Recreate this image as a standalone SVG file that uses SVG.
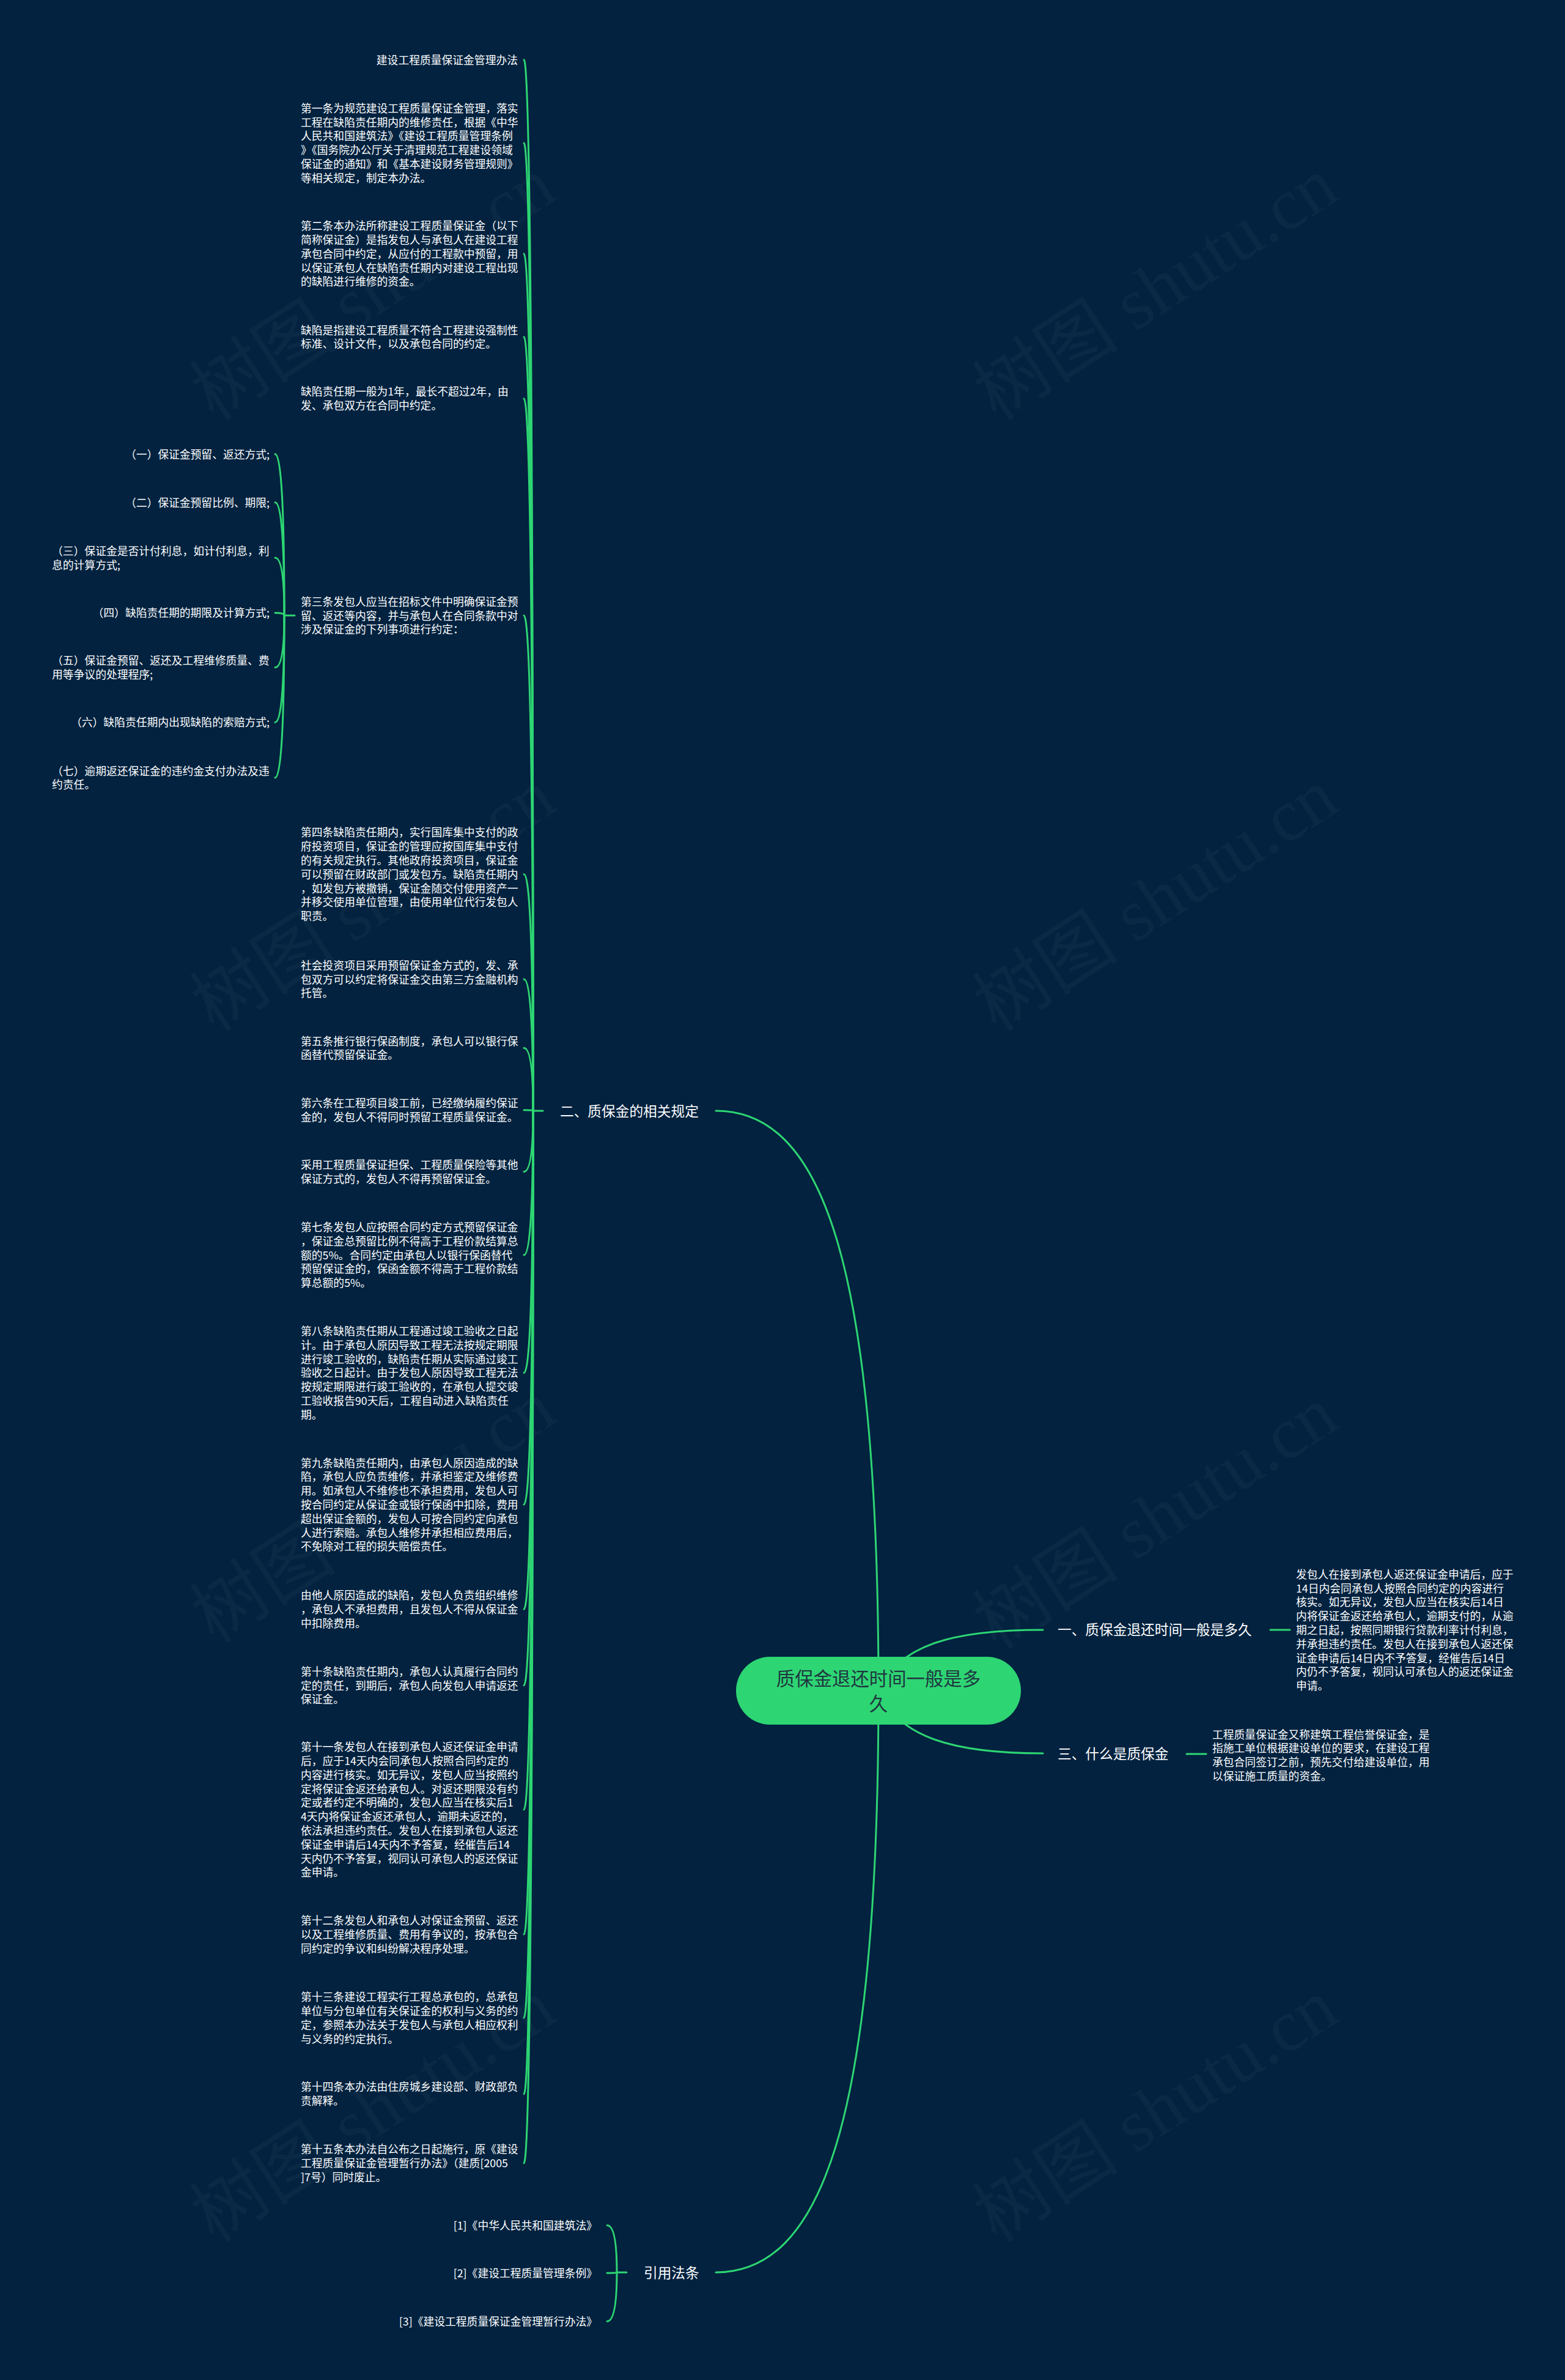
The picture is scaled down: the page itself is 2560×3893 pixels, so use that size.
<svg xmlns="http://www.w3.org/2000/svg" width="2560" height="3893" viewBox="0 0 2560 3893">
<style>
.bg{fill:#02223f}
.t{font-family:"Noto Sans CJK SC","Noto Sans",sans-serif;font-size:17.8px;fill:#ffffff}
.e{text-anchor:end}
.lbl{font-family:"Noto Sans CJK SC","Noto Sans",sans-serif;font-size:22.7px;fill:#ffffff}
.root{font-family:"Noto Sans CJK SC","Noto Sans",sans-serif;font-size:30.4px;fill:#1f3640;text-anchor:middle}
.c{fill:none;stroke:#2ed573;stroke-width:3;stroke-linecap:round}
.wm{font-family:"Liberation Serif","Noto Sans CJK SC",serif;font-size:120px;fill:#ffffff;fill-opacity:0.035}
</style>
<rect class="bg" x="0" y="0" width="2560" height="3893"/>
<g id="watermarks">
<text class="wm" transform="translate(350 690) rotate(-33)">树图 shutu.cn</text>
<text class="wm" transform="translate(1630 690) rotate(-33)">树图 shutu.cn</text>
<text class="wm" transform="translate(350 1690) rotate(-33)">树图 shutu.cn</text>
<text class="wm" transform="translate(1630 1690) rotate(-33)">树图 shutu.cn</text>
<text class="wm" transform="translate(350 2690) rotate(-33)">树图 shutu.cn</text>
<text class="wm" transform="translate(1630 2700) rotate(-33)">树图 shutu.cn</text>
<text class="wm" transform="translate(350 3670) rotate(-33)">树图 shutu.cn</text>
<text class="wm" transform="translate(1630 3670) rotate(-33)">树图 shutu.cn</text>
</g>
<g id="connectors">
<path class="c" d="M1437,2766 C1437,2050 1340,1817 1171,1817"/>
<path class="c" d="M1437,2766 C1437,3482 1340,3717 1171,3717"/>
<path class="c" d="M1437,2766 C1470,2690 1560,2666 1706,2666"/>
<path class="c" d="M1437,2766 C1470,2842 1560,2868 1706,2868"/>
<path class="c" d="M2078,2666 L2110,2666"/>
<path class="c" d="M1941,2869 L1973,2869"/>
<path class="c" d="M872,1817 L888,1817"/>
<path class="c" d="M857,97.7 Q872,97.7 872,1817"/>
<path class="c" d="M857,234 Q872,234 872,1817"/>
<path class="c" d="M857,414.9 Q872,414.9 872,1817"/>
<path class="c" d="M857,551.1 Q872,551.1 872,1817"/>
<path class="c" d="M857,652 Q872,652 872,1817"/>
<path class="c" d="M857,1006.8 Q872,1006.8 872,1817"/>
<path class="c" d="M857,1429.9 Q872,1429.9 872,1817"/>
<path class="c" d="M857,1601.8 Q872,1601.8 872,1817"/>
<path class="c" d="M857,1714.2 Q872,1714.2 872,1817"/>
<path class="c" d="M857,1815.8 Q872,1815.8 872,1817"/>
<path class="c" d="M857,1916.6 Q872,1916.6 872,1817"/>
<path class="c" d="M857,2052.8 Q872,2052.8 872,1817"/>
<path class="c" d="M857,2245.6 Q872,2245.6 872,1817"/>
<path class="c" d="M857,2461.1 Q872,2461.1 872,1817"/>
<path class="c" d="M857,2632.2 Q872,2632.2 872,1817"/>
<path class="c" d="M857,2756.8 Q872,2756.8 872,1817"/>
<path class="c" d="M857,2959.9 Q872,2959.9 872,1817"/>
<path class="c" d="M857,3164.1 Q872,3164.1 872,1817"/>
<path class="c" d="M857,3300.5 Q872,3300.5 872,1817"/>
<path class="c" d="M857,3425 Q872,3425 872,1817"/>
<path class="c" d="M857,3538.2 Q872,3538.2 872,1817"/>
<path class="c" d="M465,1006.8 L482,1006.8"/>
<path class="c" d="M450,742.7 Q465,742.7 465,1006.8"/>
<path class="c" d="M450,821.8 Q465,821.8 465,1006.8"/>
<path class="c" d="M450,912.3 Q465,912.3 465,1006.8"/>
<path class="c" d="M450,1002.5 Q465,1002.5 465,1006.8"/>
<path class="c" d="M450,1091.8 Q465,1091.8 465,1006.8"/>
<path class="c" d="M450,1181.6 Q465,1181.6 465,1006.8"/>
<path class="c" d="M450,1272.1 Q465,1272.1 465,1006.8"/>
<path class="c" d="M1009,3717 L1025,3717"/>
<path class="c" d="M993,3640 Q1009,3640 1009,3717"/>
<path class="c" d="M993,3718 Q1009,3718 1009,3717"/>
<path class="c" d="M993,3797 Q1009,3797 1009,3717"/>
</g>
<g id="root">
<rect x="1204" y="2710" width="466" height="111" rx="55.5" fill="#2ed573"/>
<text class="root" x="1437" y="2756.5">质保金退还时间一般是多</text>
<text class="root" x="1437" y="2797.5">久</text>
</g>
<g id="branch-1"><text class="lbl" x="1730" y="2674.1">一、质保金退还时间一般是多久</text></g>
<g id="branch-1-detail"><text class="t" x="2120" y="2581.8">
<tspan x="2120" dy="0">发包人在接到承包人返还保证金申请后，应于</tspan>
<tspan x="2120" dy="22.8">14日内会同承包人按照合同约定的内容进行</tspan>
<tspan x="2120" dy="22.8">核实。如无异议，发包人应当在核实后14日</tspan>
<tspan x="2120" dy="22.8">内将保证金返还给承包人，逾期支付的，从逾</tspan>
<tspan x="2120" dy="22.8">期之日起，按照同期银行贷款利率计付利息，</tspan>
<tspan x="2120" dy="22.8">并承担违约责任。发包人在接到承包人返还保</tspan>
<tspan x="2120" dy="22.8">证金申请后14日内不予答复，经催告后14日</tspan>
<tspan x="2120" dy="22.8">内仍不予答复，视同认可承包人的返还保证金</tspan>
<tspan x="2120" dy="22.8">申请。</tspan></text></g>
<g id="branch-3"><text class="lbl" x="1730" y="2876.6">三、什么是质保金</text></g>
<g id="branch-3-detail"><text class="t" x="1983" y="2843.5">
<tspan x="1983" dy="0">工程质量保证金又称建筑工程信誉保证金，是</tspan>
<tspan x="1983" dy="22.8">指施工单位根据建设单位的要求，在建设工程</tspan>
<tspan x="1983" dy="22.8">承包合同签订之前，预先交付给建设单位，用</tspan>
<tspan x="1983" dy="22.8">以保证施工质量的资金。</tspan></text></g>
<g id="branch-2"><text class="lbl" x="916" y="1825.6">二、质保金的相关规定</text></g>
<g id="branch-refs"><text class="lbl" x="1053" y="3725.6">引用法条</text></g>
<g id="ref-1"><text class="t e" x="977" y="3646.8">[1]《中华人民共和国建筑法》</text></g>
<g id="ref-2"><text class="t e" x="977" y="3724.8">[2]《建设工程质量管理条例》</text></g>
<g id="ref-3"><text class="t e" x="977" y="3803.8">[3]《建设工程质量保证金管理暂行办法》</text></g>
<g id="n-title"><text class="t e" x="847" y="104.5">建设工程质量保证金管理办法</text></g>
<g id="n-1"><text class="t" x="492" y="183.8">
<tspan x="492" dy="0">第一条为规范建设工程质量保证金管理，落实</tspan>
<tspan x="492" dy="22.8">工程在缺陷责任期内的维修责任，根据《中华</tspan>
<tspan x="492" dy="22.8">人民共和国建筑法》《建设工程质量管理条例</tspan>
<tspan x="492" dy="22.8">》《国务院办公厅关于清理规范工程建设领域</tspan>
<tspan x="492" dy="22.8">保证金的通知》和《基本建设财务管理规则》</tspan>
<tspan x="492" dy="22.8">等相关规定，制定本办法。</tspan></text></g>
<g id="n-2"><text class="t" x="492" y="376.1">
<tspan x="492" dy="0">第二条本办法所称建设工程质量保证金（以下</tspan>
<tspan x="492" dy="22.8">简称保证金）是指发包人与承包人在建设工程</tspan>
<tspan x="492" dy="22.8">承包合同中约定，从应付的工程款中预留，用</tspan>
<tspan x="492" dy="22.8">以保证承包人在缺陷责任期内对建设工程出现</tspan>
<tspan x="492" dy="22.8">的缺陷进行维修的资金。</tspan></text></g>
<g id="n-defect"><text class="t" x="492" y="546.5">
<tspan x="492" dy="0">缺陷是指建设工程质量不符合工程建设强制性</tspan>
<tspan x="492" dy="22.8">标准、设计文件，以及承包合同的约定。</tspan></text></g>
<g id="n-period"><text class="t" x="492" y="647.4">
<tspan x="492" dy="0">缺陷责任期一般为1年，最长不超过2年，由</tspan>
<tspan x="492" dy="22.8">发、承包双方在合同中约定。</tspan></text></g>
<g id="n-3"><text class="t" x="492" y="990.8">
<tspan x="492" dy="0">第三条发包人应当在招标文件中明确保证金预</tspan>
<tspan x="492" dy="22.8">留、返还等内容，并与承包人在合同条款中对</tspan>
<tspan x="492" dy="22.8">涉及保证金的下列事项进行约定：</tspan></text></g>
<g id="n-3-1"><text class="t e" x="441" y="749.5">（一）保证金预留、返还方式;</text></g>
<g id="n-3-2"><text class="t e" x="441" y="828.6">（二）保证金预留比例、期限;</text></g>
<g id="n-3-3"><text class="t" x="85" y="907.7">
<tspan x="85" dy="0">（三）保证金是否计付利息，如计付利息，利</tspan>
<tspan x="85" dy="22.8">息的计算方式;</tspan></text></g>
<g id="n-3-4"><text class="t e" x="441" y="1009.3">（四）缺陷责任期的期限及计算方式;</text></g>
<g id="n-3-5"><text class="t" x="85" y="1087.2">
<tspan x="85" dy="0">（五）保证金预留、返还及工程维修质量、费</tspan>
<tspan x="85" dy="22.8">用等争议的处理程序;</tspan></text></g>
<g id="n-3-6"><text class="t e" x="441" y="1188.4">（六）缺陷责任期内出现缺陷的索赔方式;</text></g>
<g id="n-3-7"><text class="t" x="85" y="1267.5">
<tspan x="85" dy="0">（七）逾期返还保证金的违约金支付办法及违</tspan>
<tspan x="85" dy="22.8">约责任。</tspan></text></g>
<g id="n-4"><text class="t" x="492" y="1368.3">
<tspan x="492" dy="0">第四条缺陷责任期内，实行国库集中支付的政</tspan>
<tspan x="492" dy="22.8">府投资项目，保证金的管理应按国库集中支付</tspan>
<tspan x="492" dy="22.8">的有关规定执行。其他政府投资项目，保证金</tspan>
<tspan x="492" dy="22.8">可以预留在财政部门或发包方。缺陷责任期内</tspan>
<tspan x="492" dy="22.8">，如发包方被撤销，保证金随交付使用资产一</tspan>
<tspan x="492" dy="22.8">并移交使用单位管理，由使用单位代行发包人</tspan>
<tspan x="492" dy="22.8">职责。</tspan></text></g>
<g id="n-social"><text class="t" x="492" y="1585.8">
<tspan x="492" dy="0">社会投资项目采用预留保证金方式的，发、承</tspan>
<tspan x="492" dy="22.8">包双方可以约定将保证金交由第三方金融机构</tspan>
<tspan x="492" dy="22.8">托管。</tspan></text></g>
<g id="n-5"><text class="t" x="492" y="1709.6">
<tspan x="492" dy="0">第五条推行银行保函制度，承包人可以银行保</tspan>
<tspan x="492" dy="22.8">函替代预留保证金。</tspan></text></g>
<g id="n-6"><text class="t" x="492" y="1811.2">
<tspan x="492" dy="0">第六条在工程项目竣工前，已经缴纳履约保证</tspan>
<tspan x="492" dy="22.8">金的，发包人不得同时预留工程质量保证金。</tspan></text></g>
<g id="n-guarantee"><text class="t" x="492" y="1912">
<tspan x="492" dy="0">采用工程质量保证担保、工程质量保险等其他</tspan>
<tspan x="492" dy="22.8">保证方式的，发包人不得再预留保证金。</tspan></text></g>
<g id="n-7"><text class="t" x="492" y="2014">
<tspan x="492" dy="0">第七条发包人应按照合同约定方式预留保证金</tspan>
<tspan x="492" dy="22.8">，保证金总预留比例不得高于工程价款结算总</tspan>
<tspan x="492" dy="22.8">额的5%。合同约定由承包人以银行保函替代</tspan>
<tspan x="492" dy="22.8">预留保证金的，保函金额不得高于工程价款结</tspan>
<tspan x="492" dy="22.8">算总额的5%。</tspan></text></g>
<g id="n-8"><text class="t" x="492" y="2184">
<tspan x="492" dy="0">第八条缺陷责任期从工程通过竣工验收之日起</tspan>
<tspan x="492" dy="22.8">计。由于承包人原因导致工程无法按规定期限</tspan>
<tspan x="492" dy="22.8">进行竣工验收的，缺陷责任期从实际通过竣工</tspan>
<tspan x="492" dy="22.8">验收之日起计。由于发包人原因导致工程无法</tspan>
<tspan x="492" dy="22.8">按规定期限进行竣工验收的，在承包人提交竣</tspan>
<tspan x="492" dy="22.8">工验收报告90天后，工程自动进入缺陷责任</tspan>
<tspan x="492" dy="22.8">期。</tspan></text></g>
<g id="n-9"><text class="t" x="492" y="2399.5">
<tspan x="492" dy="0">第九条缺陷责任期内，由承包人原因造成的缺</tspan>
<tspan x="492" dy="22.8">陷，承包人应负责维修，并承担鉴定及维修费</tspan>
<tspan x="492" dy="22.8">用。如承包人不维修也不承担费用，发包人可</tspan>
<tspan x="492" dy="22.8">按合同约定从保证金或银行保函中扣除，费用</tspan>
<tspan x="492" dy="22.8">超出保证金额的，发包人可按合同约定向承包</tspan>
<tspan x="492" dy="22.8">人进行索赔。承包人维修并承担相应费用后，</tspan>
<tspan x="492" dy="22.8">不免除对工程的损失赔偿责任。</tspan></text></g>
<g id="n-others"><text class="t" x="492" y="2616.2">
<tspan x="492" dy="0">由他人原因造成的缺陷，发包人负责组织维修</tspan>
<tspan x="492" dy="22.8">，承包人不承担费用，且发包人不得从保证金</tspan>
<tspan x="492" dy="22.8">中扣除费用。</tspan></text></g>
<g id="n-10"><text class="t" x="492" y="2740.8">
<tspan x="492" dy="0">第十条缺陷责任期内，承包人认真履行合同约</tspan>
<tspan x="492" dy="22.8">定的责任，到期后，承包人向发包人申请返还</tspan>
<tspan x="492" dy="22.8">保证金。</tspan></text></g>
<g id="n-11"><text class="t" x="492" y="2864.1">
<tspan x="492" dy="0">第十一条发包人在接到承包人返还保证金申请</tspan>
<tspan x="492" dy="22.8">后，应于14天内会同承包人按照合同约定的</tspan>
<tspan x="492" dy="22.8">内容进行核实。如无异议，发包人应当按照约</tspan>
<tspan x="492" dy="22.8">定将保证金返还给承包人。对返还期限没有约</tspan>
<tspan x="492" dy="22.8">定或者约定不明确的，发包人应当在核实后1</tspan>
<tspan x="492" dy="22.8">4天内将保证金返还承包人，逾期未返还的，</tspan>
<tspan x="492" dy="22.8">依法承担违约责任。发包人在接到承包人返还</tspan>
<tspan x="492" dy="22.8">保证金申请后14天内不予答复，经催告后14</tspan>
<tspan x="492" dy="22.8">天内仍不予答复，视同认可承包人的返还保证</tspan>
<tspan x="492" dy="22.8">金申请。</tspan></text></g>
<g id="n-12"><text class="t" x="492" y="3148.1">
<tspan x="492" dy="0">第十二条发包人和承包人对保证金预留、返还</tspan>
<tspan x="492" dy="22.8">以及工程维修质量、费用有争议的，按承包合</tspan>
<tspan x="492" dy="22.8">同约定的争议和纠纷解决程序处理。</tspan></text></g>
<g id="n-13"><text class="t" x="492" y="3273.1">
<tspan x="492" dy="0">第十三条建设工程实行工程总承包的，总承包</tspan>
<tspan x="492" dy="22.8">单位与分包单位有关保证金的权利与义务的约</tspan>
<tspan x="492" dy="22.8">定，参照本办法关于发包人与承包人相应权利</tspan>
<tspan x="492" dy="22.8">与义务的约定执行。</tspan></text></g>
<g id="n-14"><text class="t" x="492" y="3420.4">
<tspan x="492" dy="0">第十四条本办法由住房城乡建设部、财政部负</tspan>
<tspan x="492" dy="22.8">责解释。</tspan></text></g>
<g id="n-15"><text class="t" x="492" y="3522.2">
<tspan x="492" dy="0">第十五条本办法自公布之日起施行，原《建设</tspan>
<tspan x="492" dy="22.8">工程质量保证金管理暂行办法》（建质[2005</tspan>
<tspan x="492" dy="22.8">]7号）同时废止。</tspan></text></g>
</svg>
